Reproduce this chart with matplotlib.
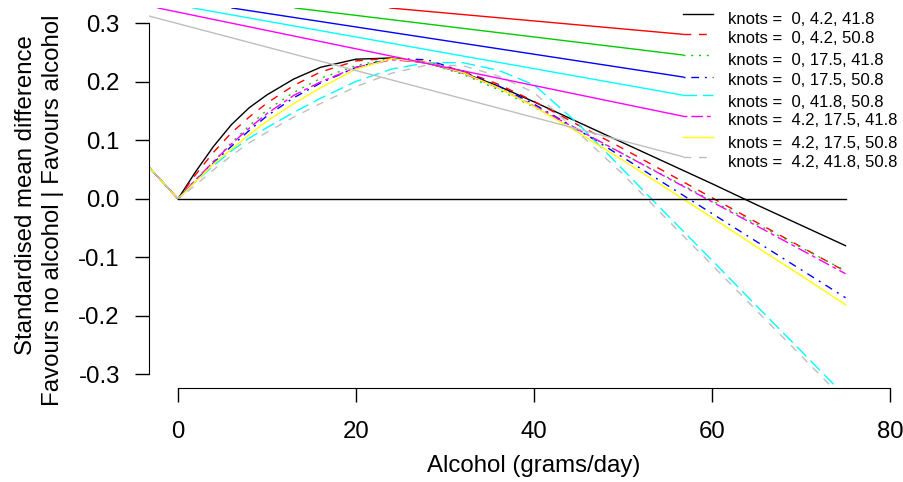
import matplotlib
matplotlib.use("Agg")
import matplotlib.pyplot as plt
from matplotlib.lines import Line2D

plt.rcParams['font.family'] = ['Liberation Sans', 'DejaVu Sans']

# alcohol (grams/day) and fitted SMD for each knot set
alcohol = [-5, 0, 2, 4, 6, 8, 10, 13, 16, 20, 24, 28, 32, 36, 40, 45, 50, 55, 60, 65, 70, 75]
k_0_42_418 = [0.083, 0, 0.047, 0.09, 0.127, 0.156, 0.178, 0.205, 0.225, 0.239, 0.241, 0.232,
              0.216, 0.193, 0.166, 0.131, 0.096, 0.061, 0.026, -0.010, -0.045, -0.080]
k_0_42_508 = [0.083, 0, 0.042, 0.08, 0.113, 0.14, 0.164, 0.194, 0.217, 0.236, 0.241, 0.234,
              0.219, 0.196, 0.167, 0.126, 0.086, 0.044, 0.002, -0.040, -0.082, -0.124]
k_0_175_418 = [0.083, 0, 0.033, 0.064, 0.096, 0.125, 0.152, 0.182, 0.206, 0.228, 0.241, 0.232,
               0.213, 0.187, 0.157, 0.117, 0.077, 0.037, -0.003, -0.043, -0.083, -0.123]
k_0_175_508 = [0.083, 0, 0.032, 0.062, 0.09, 0.117, 0.142, 0.173, 0.198, 0.225, 0.24, 0.238,
               0.218, 0.193, 0.162, 0.118, 0.071, 0.023, -0.025, -0.073, -0.121, -0.169]
k_0_418_508 = [0.083, 0, 0.03, 0.057, 0.082, 0.104, 0.122, 0.148, 0.172, 0.201, 0.222, 0.233,
               0.233, 0.22, 0.195, 0.128, 0.05, -0.028, -0.105, -0.183, -0.26, -0.338]
k_42_175_418 = [0.083, 0, 0.033, 0.064, 0.094, 0.121, 0.146, 0.177, 0.2, 0.225, 0.238, 0.233,
                0.215, 0.19, 0.159, 0.118, 0.077, 0.036, -0.005, -0.046, -0.087, -0.128]
k_42_175_508 = [0.083, 0, 0.03, 0.06, 0.085, 0.11, 0.133, 0.163, 0.19, 0.222, 0.24, 0.233,
                0.216, 0.19, 0.158, 0.113, 0.066, 0.017, -0.032, -0.082, -0.131, -0.181]
k_42_418_508 = [0.083, 0, 0.024, 0.05, 0.074, 0.096, 0.114, 0.14, 0.163, 0.192, 0.215, 0.229,
                0.228, 0.21, 0.182, 0.113, 0.042, -0.036, -0.113, -0.191, -0.268, -0.346]

labels = ["knots =  0, 4.2, 41.8", "knots =  0, 4.2, 50.8", "knots =  0, 17.5, 41.8",
          "knots =  0, 17.5, 50.8", "knots =  0, 41.8, 50.8", "knots =  4.2, 17.5, 41.8",
          "knots =  4.2, 17.5, 50.8", "knots =  4.2, 41.8, 50.8"]

# stray straight lines running into the legend (red, green, blue, cyan, magenta, grey)
diag_x0 = [23.82, 13.15, 6.07, 1.69, -2.25, -3.26]
diag_y0 = [0.3265, 0.3265, 0.3265, 0.3265, 0.3265, 0.3128]
diag_x1 = [56.74, 56.74, 56.74, 56.74, 56.74, 56.74]
diag_y1 = [0.2815, 0.2461, 0.2085, 0.1774, 0.1414, 0.0722]

ref_x = [0, 75]
ref_y = [0, 0]

xticks = [0, 20, 40, 60, 80]
yticks = [-0.3, -0.2, -0.1, 0.0, 0.1, 0.2, 0.3]
ytick_labels = ["-0.3", "-0.2", "-0.1", "0.0", "0.1", "0.2", "0.3"]

curves = [k_0_42_418, k_0_42_508, k_0_175_418, k_0_175_508,
          k_0_418_508, k_42_175_418, k_42_175_508, k_42_418_508]
colors = ['black', '#FF0000', '#00CD00', '#0000FF', '#00FFFF', '#FF00FF', '#FFFF00', '#BEBEBE']
u = 1.4
dashes = [None, (4*u, 4*u), (1*u, 3*u), (1*u, 3*u, 4*u, 3*u), (7*u, 3*u),
          (2*u, 2*u, 6*u, 2*u), None, (4*u, 4*u)]

W, H = 904, 482
fig = plt.figure(figsize=(W / 100, H / 100), dpi=100)
ax = fig.add_axes([149 / W, (H - 388) / H, (W - 149) / W, (388 - 8) / H])
ax.set_xlim(-3.26, 81.57)
ax.set_ylim(-0.3234, 0.3265)


def style(line, i):
    if dashes[i] is not None:
        line.set_dashes(dashes[i])


for i, ys in enumerate(curves):
    ln, = ax.plot(alcohol, ys, color=colors[i], lw=1.0)
    style(ln, i)

ax.plot(ref_x, ref_y, color='black', lw=1.0)

diag_cols = [colors[1], colors[2], colors[3], colors[4], colors[5], colors[7]]
for i in range(len(diag_x0)):
    ax.plot([diag_x0[i], diag_x1[i]], [diag_y0[i], diag_y1[i]], color=diag_cols[i], lw=1.0)

# legend drawn by hand (pixel positions)
leg_line_y = [14, 34.3, 55, 77, 95.2, 116.2, 137, 156.7]
leg_text_y = [24, 43, 65, 85, 107, 125, 148, 167]
for i, lab in enumerate(labels):
    ln = Line2D([683 / W, 713 / W], [1 - leg_line_y[i] / H, 1 - leg_line_y[i] / H],
                transform=fig.transFigure, color=colors[i], lw=1.0)
    style(ln, i)
    fig.add_artist(ln)
    fig.text(728 / W, 1 - leg_text_y[i] / H, lab, fontsize=12, va='baseline', ha='left')

for s in ['top', 'right']:
    ax.spines[s].set_visible(False)
ax.spines['left'].set_bounds(-0.3, 0.3)
ax.spines['bottom'].set_bounds(0, 80)
ax.set_xticks(xticks)
ax.set_xticklabels([str(t) for t in xticks])
ax.set_yticks(yticks)
ax.set_yticklabels(ytick_labels)
ax.tick_params(axis='both', length=10, width=1.0, labelsize=17.3)
ax.tick_params(axis='x', pad=14)
ax.tick_params(axis='y', pad=11)

fig.text(534 / W, 1 - 472 / H, "Alcohol (grams/day)", fontsize=17.3, ha='center', va='baseline')
fig.text(32 / W, 1 - 195.5 / H, "Standardised mean difference", fontsize=17.3, rotation=90,
         rotation_mode='anchor', ha='center', va='baseline')
fig.text(59 / W, 1 - 210 / H, "Favours no alcohol | Favours alcohol", fontsize=17.3, rotation=90,
         rotation_mode='anchor', ha='center', va='baseline')

fig.savefig("out.png", dpi=100)
